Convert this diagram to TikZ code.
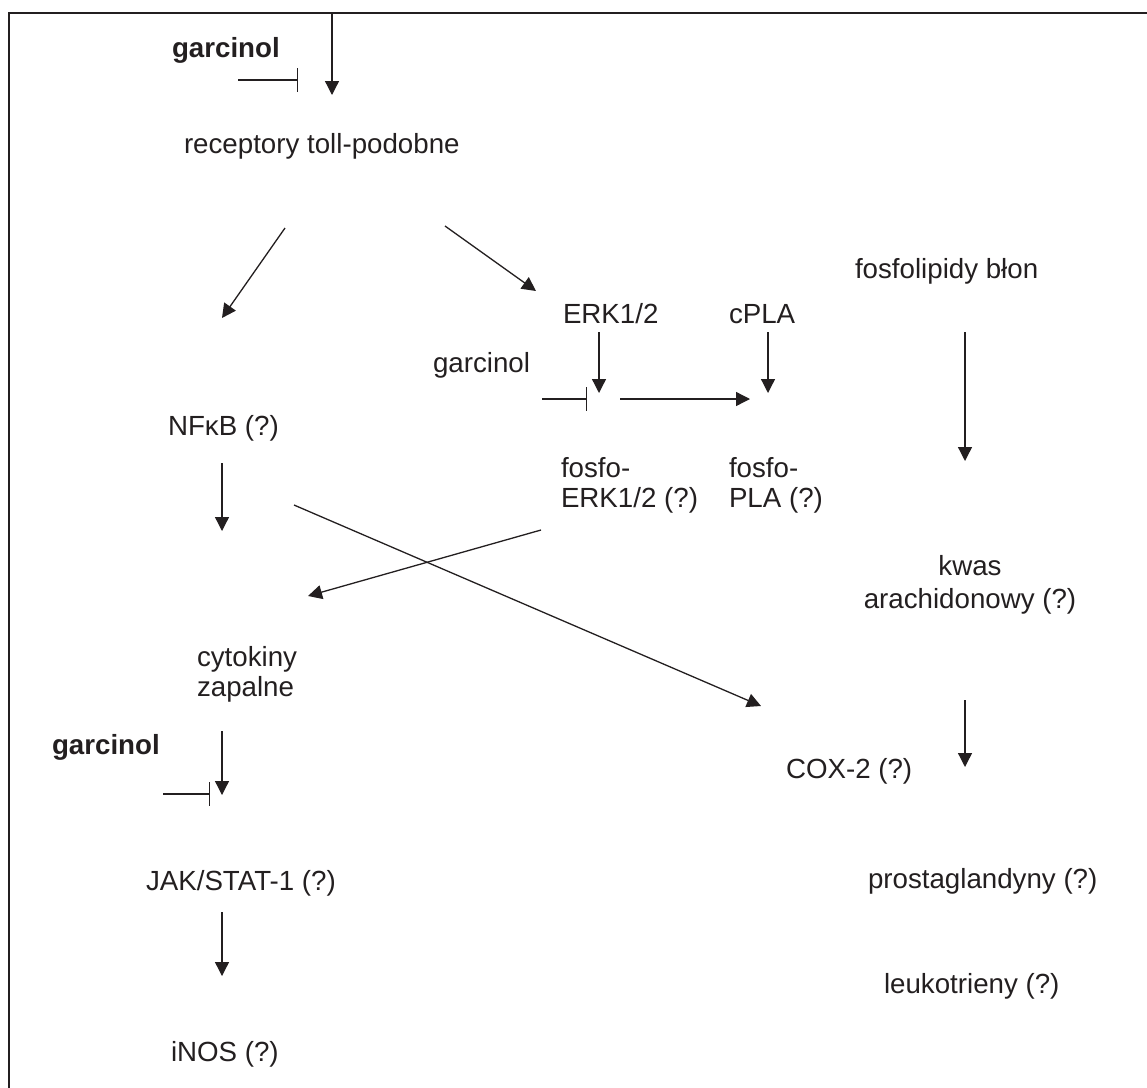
\documentclass[tikz,border=0pt]{standalone}
\usepackage{fontspec}
\setmainfont{Liberation Sans}
\usetikzlibrary{arrows.meta}
\definecolor{ink}{HTML}{231F20}
\tikzset{
  lbl/.style={anchor=base west, inner sep=0pt, outer sep=0pt, text=ink, font=\fontsize{27.7}{30}\selectfont},
  blbl/.style={lbl, font=\fontsize{27.7}{30}\selectfont\bfseries},
  act/.style={draw=ink, line width=1.3pt, -{Triangle[length=14pt,width=14pt]}},
  inh/.style={draw=ink, line width=1.3pt, -{Bar[width=24pt,line width=1.3pt]}},
  frame/.style={draw=ink, line width=2pt}
}
\begin{document}
\begin{tikzpicture}[x=1pt,y=-1pt]
\useasboundingbox (0,0) rectangle (1147,1087);
\draw[frame] (8.5,1090) -- (8.5,13) -- (1150,13);

% labels
\node[blbl] (g1) at (172,57) {garcinol};
\node[lbl] (tlr) at (184,153) {receptory toll-podobne};
\node[lbl] (fos) at (855,278) {fosfolipidy błon};
\node[lbl] (erk) at (563,323) {ERK1/2};
\node[lbl] (cpla) at (729,323) {cPLA};
\node[lbl] (g2) at (433,372) {garcinol};
\node[lbl] (nfkb) at (168,435) {NFκB (?)};
\node[lbl] (perk1) at (561,477) {fosfo-};
\node[lbl] (perk2) at (561,507) {ERK1/2 (?)};
\node[lbl] (ppla1) at (729,477) {fosfo-};
\node[lbl] (ppla2) at (729,507) {PLA (?)};
\node[lbl,anchor=base] (aa1) at (970,575) {kwas};
\node[lbl,anchor=base] (aa2) at (970,608) {arachidonowy (?)};
\node[lbl] (cyt1) at (197,666) {cytokiny};
\node[lbl] (cyt2) at (197,696) {zapalne};
\node[blbl] (g3) at (52,754) {garcinol};
\node[lbl] (cox) at (786,778) {COX-2 (?)};
\node[lbl] (jak) at (146,890) {JAK/STAT-1 (?)};
\node[lbl] (pg) at (868,888) {prostaglandyny (?)};
\node[lbl] (lt) at (884,993) {leukotrieny (?)};
\node[lbl] (inos) at (171,1061) {iNOS (?)};

% connector end points
\coordinate (a1s) at (332,13);   \coordinate (a1e) at (332,95);
\coordinate (i1s) at (238,80);   \coordinate (i1e) at (298,80);
\coordinate (a2s) at (285,228);  \coordinate (a2e) at (222,318);
\coordinate (a3s) at (445,226);  \coordinate (a3e) at (536,291);
\coordinate (a4s) at (599,332);  \coordinate (a4e) at (599,393);
\coordinate (i2s) at (542,399);  \coordinate (i2e) at (587,399);
\coordinate (a5s) at (620,399);  \coordinate (a5e) at (750,399);
\coordinate (a6s) at (768,332);  \coordinate (a6e) at (768,393);
\coordinate (a7s) at (965,332);  \coordinate (a7e) at (965,461);
\coordinate (a8s) at (222,463);  \coordinate (a8e) at (222,531);
\coordinate (a9s) at (294,505);  \coordinate (a9e) at (761,706);
\coordinate (a10s) at (541,530); \coordinate (a10e) at (308,596);
\coordinate (a11s) at (965,700); \coordinate (a11e) at (965,767);
\coordinate (a12s) at (222,731); \coordinate (a12e) at (222,795);
\coordinate (i3s) at (163,794);  \coordinate (i3e) at (210,794);
\coordinate (a13s) at (222,912); \coordinate (a13e) at (222,976);

\draw[act] (a1s) -- (a1e);
\draw[inh] (i1s) -- (i1e);
\draw[act] (a2s) -- (a2e);
\draw[act] (a3s) -- (a3e);
\draw[act] (a4s) -- (a4e);
\draw[inh] (i2s) -- (i2e);
\draw[act] (a5s) -- (a5e);
\draw[act] (a6s) -- (a6e);
\draw[act] (a7s) -- (a7e);
\draw[act] (a8s) -- (a8e);
\draw[act] (a9s) -- (a9e);
\draw[act] (a10s) -- (a10e);
\draw[act] (a11s) -- (a11e);
\draw[act] (a12s) -- (a12e);
\draw[inh] (i3s) -- (i3e);
\draw[act] (a13s) -- (a13e);
\end{tikzpicture}
\end{document}
